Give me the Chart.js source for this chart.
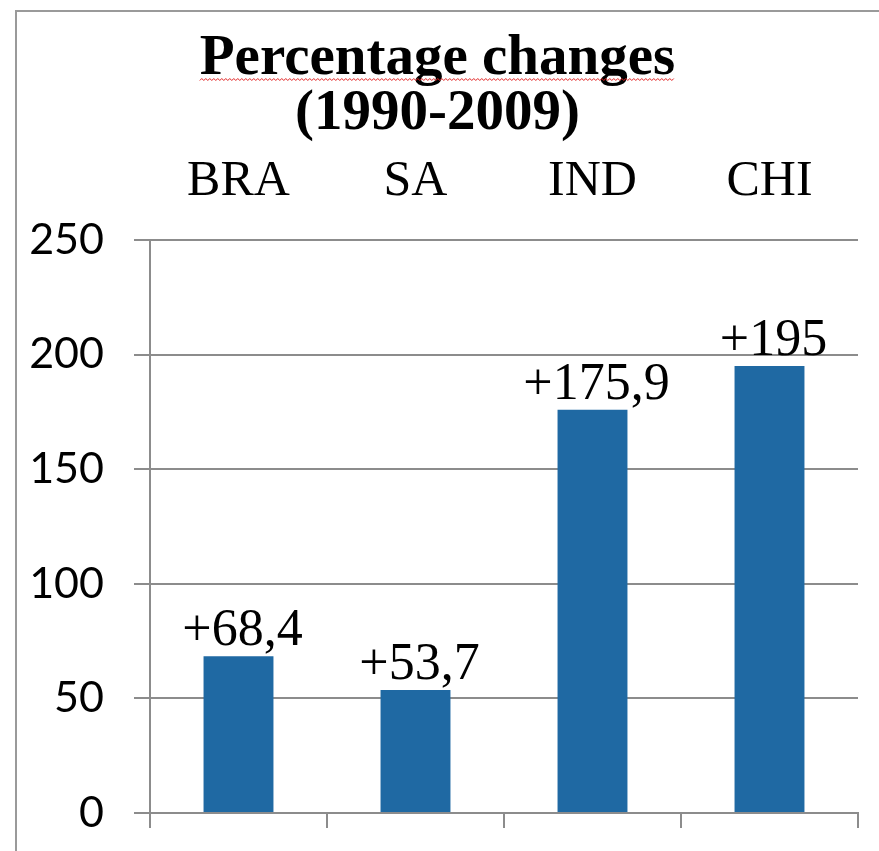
<!DOCTYPE html>
<html>
<head>
<meta charset="utf-8">
<script src="https://cdn.jsdelivr.net/npm/chart.js@4"></script>
<style>
  html, body { margin: 0; padding: 0; background: #fff; overflow: hidden; }
  #wrap { position: absolute; left: 15px; top: 10px; width: 862px; height: 839px;
          border-left: 2px solid #9a9a9a; border-top: 2px solid #9a9a9a; }
  canvas { display: block; }
</style>
</head>
<body>
<div id="wrap"><canvas id="c" width="862" height="839"></canvas></div>
<script>
const titleLines = ['Percentage changes', '(1990-2009)'];
const categories = ['BRA', 'SA', 'IND', 'CHI'];
const values = [68.4, 53.7, 175.9, 195];
const yMin = 0, yMax = 250, yStep = 50;

const fmt = v => '+' + String(v).replace('.', ',');

const valueLabels = {
  id: 'valueLabels',
  afterDatasetsDraw(chart) {
    const ctx = chart.ctx;
    const meta = chart.getDatasetMeta(0);
    ctx.save();
    ctx.font = '52px "Liberation Serif", serif';
    ctx.fillStyle = '#000';
    ctx.textAlign = 'center';
    ctx.textBaseline = 'alphabetic';
    meta.data.forEach((bar, i) => {
      ctx.fillText(fmt(values[i]), bar.x + 4, bar.y - 11);
    });
    ctx.restore();
  }
};

const squiggle = {
  id: 'squiggle',
  afterDraw(chart) {
    const t = chart.titleBlock;
    if (!t) return;
    const ctx = chart.ctx;
    ctx.save();
    ctx.font = 'bold 57px "Liberation Serif", serif';
    const w = ctx.measureText(titleLines[0]).width;
    const cx = (t.left + t.right) / 2;
    const x0 = cx - w / 2, x1 = cx + w / 2;
    const y = t.top + t.options.padding.top + 55 * 0.5 + 21;
    ctx.strokeStyle = '#e02020';
    ctx.lineWidth = 1;
    ctx.beginPath();
    let up = true;
    ctx.moveTo(x0, y);
    for (let x = x0 + 2; x <= x1; x += 2) {
      ctx.lineTo(x, up ? y - 2 : y);
      up = !up;
    }
    ctx.stroke();
    ctx.restore();
  }
};

new Chart(document.getElementById('c'), {
  type: 'bar',
  data: {
    labels: categories,
    datasets: [{
      data: values,
      backgroundColor: '#1f69a3',
      borderWidth: 0,
      barPercentage: 0.395,
      categoryPercentage: 1.0
    }]
  },
  options: {
    responsive: false,
    animation: false,
    devicePixelRatio: 1,
    layout: { padding: { left: 0, right: 21, top: 0, bottom: 23 } },
    plugins: {
      legend: { display: false },
      tooltip: { enabled: false },
      title: {
        display: true,
        text: titleLines,
        color: '#000',
        font: { family: '"Liberation Serif", serif', size: 57, weight: 'bold', lineHeight: 0.965 },
        padding: { top: 20, bottom: 10 }
      }
    },
    scales: {
      x: {
        position: 'bottom',
        grid: { display: true, drawOnChartArea: false, drawTicks: true, tickLength: 15,
                offset: true, color: '#8c8c8c', lineWidth: 2 },
        border: { display: true, color: '#8c8c8c', width: 2 },
        ticks: { display: false },
        afterFit(scale) { scale.height = 15; scale.paddingLeft = 0; scale.paddingRight = 0; }
      },
      xTop: {
        type: 'category',
        labels: categories,
        position: 'top',
        grid: { display: false, drawTicks: false },
        border: { display: false },
        ticks: { color: '#000', padding: 28,
                 font: { family: '"Liberation Serif", serif', size: 50, lineHeight: 1.2 } },
        afterFit(scale) { scale.height = 88; scale.paddingLeft = 0; scale.paddingRight = 0; }
      },
      y: {
        min: yMin, max: yMax,
        ticks: { stepSize: yStep, color: '#000', padding: 30,
                 font: { family: 'Lato, sans-serif', size: 43 } },
        grid: { color: '#8c8c8c', lineWidth: 2, tickLength: 16 },
        border: { display: true, color: '#8c8c8c', width: 2 },
        afterFit(scale) { scale.width = 133; scale.paddingTop = 0; scale.paddingBottom = 0; }
      }
    }
  },
  plugins: [valueLabels, squiggle]
});
</script>
</body>
</html>
